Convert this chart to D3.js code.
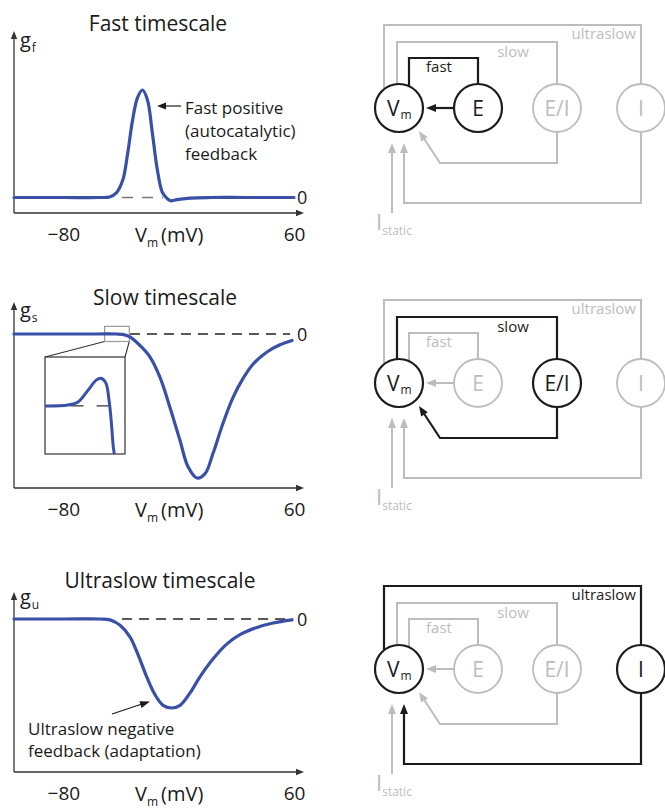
<!DOCTYPE html>
<html>
<head>
<meta charset="utf-8">
<script src="https://cdn.jsdelivr.net/npm/d3@7"></script>
<style>
  html, body { margin: 0; padding: 0; background: #fff; }
  svg { display: block; font-family: "Open Sans", "Noto Sans", sans-serif; }
</style>
</head>
<body>
<svg id="fig" width="665" height="808"></svg>
<script>
// ---- data -------------------------------------------------------------
// Membrane potential (mV) and normalised conductance for each timescale
const vmTicks = [-80, 60];
const vmDomain = [-110, 60];

const fastVm = [-110, -80, -58, -52, -48, -44, -41, -38, -35, -32, -29, -26, -23, -20, -17, -15, -11, -3, 10, 30, 60];
const fastG  = [0, 0, 0, 0.005, 0.04, 0.16, 0.41, 0.72, 0.93, 1, 0.91, 0.6, 0.26, 0.05, -0.01, -0.03, -0.02, -0.005, 0, 0, 0];

const slowVm = [-110, -80, -60, -48, -44, -39.6, -33.5, -27.4, -21.4, -15.3, -9.2, -4.4, 1.1, 6, 10.8, 16.9, 23, 29, 35.1, 43.6, 51.5, 58.8];
const slowG  = [0, 0, 0, 0, -0.003, -0.02, -0.08, -0.16, -0.30, -0.51, -0.74, -0.92, -1.0, -0.97, -0.83, -0.62, -0.44, -0.31, -0.21, -0.125, -0.075, -0.045];

// close-up of the slow conductance near threshold
const insetWindowVm = [-55, -40];
const insetWindowG  = [-0.052, 0.053];
const insetVm = [-55, -50.7, -48.8, -46.9, -45.4, -44.5, -43.6, -43.0, -42.6, -42.2, -42.0];
const insetG  = [0, 0.001, 0.0043, 0.0173, 0.028, 0.030, 0.025, 0.0065, -0.015, -0.044, -0.052];

const ultraVm = [-110, -80, -58, -51.7, -45.6, -39.6, -34.7, -29.2, -24.4, -19.5, -14.1, -9.2, -3.1, 2.9, 10.8, 19.3, 27.2, 37.5, 47.3, 58.8];
const ultraG  = [0, 0, 0, -0.01, -0.07, -0.20, -0.40, -0.66, -0.85, -0.97, -1.0, -0.97, -0.83, -0.65, -0.45, -0.28, -0.175, -0.095, -0.045, -0.01];

const panelTitles = ["Fast timescale", "Slow timescale", "Ultraslow timescale"];
const gSubscripts = ["f", "s", "u"];
const gDomains = [[0, 1], [-1, 0], [-1, 0]];
const dashVm = [[-44.4, -19.5], [-39.6, 57.6], [-44.4, 59.4]];
const loopNames = ["fast", "slow", "ultraslow"];
const nodeLabels = ["E", "E/I", "I"];

// ---- layout -----------------------------------------------------------
const BLUE = "#3a50a6", AXIS = "#333", GRAY = "#bdbdbd", BLACK = "#1c1c1c";
const svg = d3.select("#fig");

const x = d3.scaleLinear().domain(vmDomain).range([14, 294]);

const panels = [
  { titleX: 158, titleY: 31, axisTop: 31, axisY: 213, yRange: [197.5, 90], gY: 47, zeroY: 204 },
  { titleX: 165, titleY: 305, axisTop: 302, axisY: 488, yRange: [478, 334], gY: 317, zeroY: 341 },
  { titleX: 160, titleY: 588, axisTop: 592, axisY: 772, yRange: [708, 619], gY: 604, zeroY: 626 }
];
const series = [[fastVm, fastG], [slowVm, slowG], [ultraVm, ultraG]];

function arrowHead(g, tip, from, len, half, color) {
  const dx = tip[0] - from[0], dy = tip[1] - from[1];
  const d = Math.hypot(dx, dy), ux = dx / d, uy = dy / d;
  const bx = tip[0] - ux * len, by = tip[1] - uy * len;
  g.append("path")
    .attr("d", `M${tip[0]},${tip[1]}L${bx - uy * half},${by + ux * half}L${bx + uy * half},${by - ux * half}Z`)
    .attr("fill", color);
}

const smooth = d3.curveCatmullRom.alpha(0.5);

panels.forEach((p, i) => {
  const g = svg.append("g");
  const y = d3.scaleLinear().domain(gDomains[i]).range(p.yRange);

  // title
  g.append("text").attr("x", p.titleX).attr("y", p.titleY)
    .attr("text-anchor", "middle").attr("font-size", 21).attr("fill", "#1a1a1a")
    .text(panelTitles[i]);

  // axes with arrow ends
  const x0 = x.range()[0];
  g.append("line").attr("x1", x0).attr("x2", x0).attr("y1", p.axisY).attr("y2", p.axisTop + 5)
    .attr("stroke", AXIS).attr("stroke-width", 1.3);
  arrowHead(g, [x0, p.axisTop], [x0, p.axisY], 8, 3.2, AXIS);
  g.append("line").attr("x1", x0).attr("x2", 298).attr("y1", p.axisY).attr("y2", p.axisY)
    .attr("stroke", AXIS).attr("stroke-width", 1.3);
  arrowHead(g, [304, p.axisY], [x0, p.axisY], 8, 3.2, AXIS);

  // tick labels
  const ax = d3.axisBottom(x).tickValues(vmTicks).tickSize(0).tickPadding(15).tickFormat(d3.format("d"));
  const axG = g.append("g").attr("transform", `translate(0,${p.axisY})`).call(ax);
  axG.select(".domain").remove();
  axG.selectAll("text").attr("font-size", 19).attr("font-family", '"Open Sans", sans-serif').attr("fill", "#1a1a1a");

  // x label
  const xl = g.append("text").attr("x", 135).attr("y", p.axisY + 29).attr("font-size", 20).attr("fill", "#1a1a1a");
  xl.append("tspan").text("V");
  xl.append("tspan").attr("dy", 5).attr("font-size", 12).text("m");
  xl.append("tspan").attr("dy", -5).attr("dx", 3).text("(mV)");

  // y label
  const yl = g.append("text").attr("x", 20).attr("y", p.gY).attr("font-size", 20).attr("fill", "#1a1a1a");
  yl.append("tspan").text("g");
  yl.append("tspan").attr("dy", 5).attr("dx", 1).attr("font-size", 12).text(gSubscripts[i]);

  // zero reference
  g.append("line").attr("x1", x(dashVm[i][0])).attr("x2", x(dashVm[i][1]))
    .attr("y1", y(0)).attr("y2", y(0))
    .attr("stroke", i === 0 ? "#777" : "#222").attr("stroke-width", 1.3)
    .attr("stroke-dasharray", i === 0 ? "11,9" : "10,7");
  g.append("text").attr("x", 297).attr("y", p.zeroY).attr("font-size", 18).attr("fill", "#1a1a1a").text("0");

  // conductance curve
  const [vs, gs] = series[i];
  const line = d3.line().x(d => x(d[0])).y(d => y(d[1])).curve(smooth);
  const drawCurve = () => g.append("path").datum(vs.map((v, k) => [v, gs[k]]))
    .attr("d", line).attr("fill", "none").attr("stroke", BLUE)
    .attr("stroke-width", 3.2).attr("stroke-linecap", "round").attr("stroke-linejoin", "round");

  if (i === 1) {
    // magnified view of the pre-threshold bump
    const bx0 = x(insetWindowVm[0]), bx1 = x(insetWindowVm[1]);
    const by0 = y(insetWindowG[1]), by1 = y(insetWindowG[0]);
    const ix = d3.scaleLinear().domain(insetWindowVm).range([45, 125]);
    const iy = d3.scaleLinear().domain(insetWindowG).range([454, 357]);
    g.append("line").attr("x1", bx0).attr("y1", by1).attr("x2", 45).attr("y2", 357).attr("stroke", AXIS).attr("stroke-width", 1.1);
    g.append("line").attr("x1", bx1).attr("y1", by1).attr("x2", 125).attr("y2", 357).attr("stroke", AXIS).attr("stroke-width", 1.1);
    g.append("rect").attr("x", 45).attr("y", 357).attr("width", 80).attr("height", 97)
      .attr("fill", "#fff").attr("stroke", AXIS).attr("stroke-width", 1.2);
    g.append("rect").attr("x", bx0).attr("y", by0).attr("width", bx1 - bx0).attr("height", by1 - by0)
      .attr("fill", "none").attr("stroke", "#9a9a9a").attr("stroke-width", 1.2);
    g.append("line").attr("x1", ix(-50.2)).attr("x2", ix(-42.2)).attr("y1", iy(0)).attr("y2", iy(0))
      .attr("stroke", AXIS).attr("stroke-width", 1.2).attr("stroke-dasharray", "13,13");
    const iline = d3.line().x(d => ix(d[0])).y(d => iy(d[1])).curve(smooth);
    g.append("path").datum(insetVm.map((v, k) => [v, insetG[k]]))
      .attr("d", iline).attr("fill", "none").attr("stroke", BLUE).attr("stroke-width", 3);
  }
  drawCurve();
});

// annotations
function annotate(lines, x0, y0, dy, size) {
  const t = svg.append("text").attr("font-size", size).attr("fill", "#1a1a1a");
  lines.forEach((s, k) => t.append("tspan").attr("x", x0).attr("y", y0 + k * dy).text(s));
}
annotate(["Fast positive", "(autocatalytic)", "feedback"], 185, 114, 23, 17);
svg.append("line").attr("x1", 181).attr("y1", 106).attr("x2", 163).attr("y2", 106).attr("stroke", BLACK).attr("stroke-width", 1.2);
arrowHead(svg, [157, 106], [181, 106], 9, 3.5, BLACK);

annotate(["Ultraslow negative", "feedback (adaptation)"], 28, 735, 22, 17);
svg.append("line").attr("x1", 112).attr("y1", 714).attr("x2", 142).attr("y2", 704).attr("stroke", BLACK).attr("stroke-width", 1.2);
arrowHead(svg, [150, 701.5], [112, 714], 10, 3.5, BLACK);

// ---- feedback loop diagrams --------------------------------------------
const R = 24;
const xV = 399, nodeXs = [478, 557, 641];
const diagramCy = [108, 383, 669];

function diagram(cy, active) {
  const g = svg.append("g");
  const edgeTop = xx => cy - Math.sqrt(R * R - (xx - xV) ** 2);
  const loops = {
    fast: {
      out: [[409, edgeTop(409)], [409, cy - 50], [nodeXs[0], cy - 50], [nodeXs[0], cy - R]],
      ret: [[nodeXs[0] - R, cy], [426, cy]],
      label: [439, cy - 36, "middle"]
    },
    slow: {
      out: [[397, edgeTop(397)], [397, cy - 66], [nodeXs[1], cy - 66], [nodeXs[1], cy - R]],
      ret: [[nodeXs[1], cy + R], [nodeXs[1], cy + 55], [440, cy + 55], [419, cy + 23]],
      label: [513, cy - 51, "middle"]
    },
    ultraslow: {
      out: [[384, edgeTop(384)], [384, cy - 83], [nodeXs[2], cy - 83], [nodeXs[2], cy - R]],
      ret: [[nodeXs[2], cy + R], [nodeXs[2], cy + 95], [404, cy + 95], [404, cy + 35]],
      label: [636, cy - 69, "end"]
    }
  };
  const pathOf = pts => d3.line()(pts);

  // static input current
  g.append("line").attr("x1", 392).attr("x2", 392).attr("y1", cy + 105).attr("y2", cy + 42)
    .attr("stroke", GRAY).attr("stroke-width", 2);
  arrowHead(g, [392, cy + 35], [392, cy + 105], 10, 4, GRAY);
  const st = g.append("text").attr("x", 376).attr("y", cy + 122).attr("fill", GRAY).attr("font-size", 22);
  st.append("tspan").text("I");
  st.append("tspan").attr("dy", 5).attr("dx", 0).attr("font-size", 12).text("static");

  const order = loopNames.filter(n => n !== active).concat([active]);
  order.forEach(name => {
    const L = loops[name], on = name === active, c = on ? BLACK : GRAY;
    g.append("path").attr("d", pathOf(L.out)).attr("fill", "none").attr("stroke", c).attr("stroke-width", on ? 2.2 : 2);
    const r = L.ret.slice();
    const tip = r[r.length - 1], prev = r[r.length - 2];
    const dx = tip[0] - prev[0], dy = tip[1] - prev[1], d = Math.hypot(dx, dy);
    r[r.length - 1] = [tip[0] - dx / d * 6, tip[1] - dy / d * 6];
    g.append("path").attr("d", pathOf(r)).attr("fill", "none").attr("stroke", c).attr("stroke-width", on ? 2.2 : 2);
    arrowHead(g, tip, prev, 10, 4, c);
    g.append("text").attr("x", L.label[0]).attr("y", L.label[1]).attr("text-anchor", L.label[2])
      .attr("font-size", 15).attr("fill", c).text(name);
  });

  // nodes
  g.append("circle").attr("cx", xV).attr("cy", cy).attr("r", R).attr("fill", "#fff").attr("stroke", BLACK).attr("stroke-width", 2.2);
  const vt = g.append("text").attr("x", 387).attr("y", cy + 8).attr("font-size", 21).attr("fill", BLACK);
  vt.append("tspan").text("V");
  vt.append("tspan").attr("dy", 3).attr("dx", 1).attr("font-size", 12).text("m");

  nodeLabels.forEach((lab, k) => {
    const on = loopNames[k] === active, c = on ? BLACK : GRAY;
    g.append("circle").attr("cx", nodeXs[k]).attr("cy", cy).attr("r", R).attr("fill", "#fff")
      .attr("stroke", c).attr("stroke-width", on ? 2.2 : 1.8);
    g.append("text").attr("x", nodeXs[k]).attr("y", cy + 8).attr("text-anchor", "middle")
      .attr("font-size", 21).attr("fill", c).text(lab);
  });
}

loopNames.forEach((name, i) => diagram(diagramCy[i], name));
</script>
</body>
</html>
